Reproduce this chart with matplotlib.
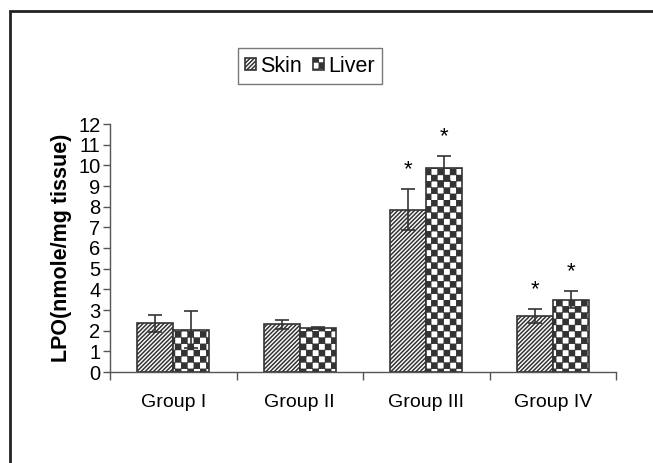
import warnings
import numpy as np
import matplotlib
matplotlib.use('Agg')
from matplotlib import pyplot as plt
from matplotlib import hatch as mhatch
from matplotlib.path import Path
from matplotlib.patches import Rectangle

warnings.filterwarnings('ignore')
plt.rcParams['font.family'] = ['Liberation Sans', 'DejaVu Sans']
plt.rcParams['hatch.linewidth'] = 1.1

groups    = ['Group I', 'Group II', 'Group III', 'Group IV']
skin      = [2.35, 2.30, 7.85, 2.70]
skin_err  = [0.40, 0.20, 1.00, 0.35]
liver     = [2.05, 2.15, 9.85, 3.50]
liver_err = [0.90, 0.05, 0.60, 0.40]
skin_sig  = [False, False, True, True]
liver_sig = [False, False, True, True]


# checkerboard hatch, triggered by the letter 'c'
class CheckerHatch(mhatch.HatchPatternBase):
    filled = True

    def __init__(self, hatch, density):
        self.n = 16 if 'c' in hatch else 0
        self.num_vertices = (self.n * self.n // 2) * 5

    def set_vertices_and_codes(self, vertices, codes):
        s = 1.0 / self.n
        shrink = 0.09 * s
        k = 0
        for i in range(self.n):
            for j in range(self.n):
                if (i + j) % 2:
                    continue
                x0, y0 = i * s + shrink, j * s + shrink
                x1, y1 = (i + 1) * s - shrink, (j + 1) * s - shrink
                vertices[k:k + 5] = [(x0, y0), (x1, y0), (x1, y1), (x0, y1), (x0, y0)]
                codes[k:k + 5] = [Path.MOVETO, Path.LINETO, Path.LINETO,
                                  Path.LINETO, Path.CLOSEPOLY]
                k += 5


mhatch._hatch_types.append(CheckerHatch)

fig = plt.figure(figsize=(6.53, 4.63), dpi=100, facecolor='w')
ax = fig.add_axes([110/653, 1-372/463, 506/653, 248/463])

x = np.arange(len(groups))
w = 0.285
edge = '#333333'
b1 = ax.bar(x - w/2, skin, w, color='white', edgecolor=edge, linewidth=1.2,
            hatch='////////', label='Skin')
b2 = ax.bar(x + w/2, liver, w, color='white', edgecolor=edge, linewidth=1.2,
            hatch='c', label='Liver')
ax.errorbar(x - w/2, skin, yerr=skin_err, fmt='none', ecolor=edge,
            elinewidth=1.2, capsize=5, capthick=1.2)
ax.errorbar(x + w/2, liver, yerr=liver_err, fmt='none', ecolor=edge,
            elinewidth=1.2, capsize=5, capthick=1.2)

for i in range(len(groups)):
    if skin_sig[i]:
        ax.text(x[i] - w/2, skin[i] + skin_err[i] + 0.95, '*', ha='center',
                va='center', fontsize=16)
    if liver_sig[i]:
        ax.text(x[i] + w/2, liver[i] + liver_err[i] + 0.95, '*', ha='center',
                va='center', fontsize=16)

ax.set_xlim(-0.5, len(groups) - 0.5)
ax.set_ylim(0, 12)
ax.set_yticks(range(0, 13))
ax.tick_params(axis='y', labelsize=14.5, length=5, width=1, color='#555555', pad=2)
ax.set_xticks(x)
ax.set_xticklabels(groups)
ax.set_xticks(np.arange(-0.5, len(groups)), minor=True)
ax.tick_params(axis='x', which='major', length=0, labelsize=14, pad=16)
ax.tick_params(axis='x', which='minor', length=6, width=1, color='#555555')
for s in ['top', 'right']:
    ax.spines[s].set_visible(False)
for s in ['left', 'bottom']:
    ax.spines[s].set_color('#555555')
    ax.spines[s].set_linewidth(1)
ax.set_ylabel('LPO(nmole/mg tissue)', fontsize=15.5, fontweight='bold', labelpad=4)

leg = fig.legend(handles=[b1, b2], loc='center', ncol=2,
                 bbox_to_anchor=(310/653, 1-66/463), fontsize=15.5,
                 handlelength=0.5, handleheight=0.5, handletextpad=0.2,
                 columnspacing=0.5, fancybox=False, borderpad=0.35)
leg.get_frame().set_edgecolor('#555555')
leg.get_frame().set_linewidth(1)

# outer frame (left and top edges visible)
fig.patches.append(Rectangle((10/653, -0.5), 2, 1.5 - 11/463, fill=False,
                             edgecolor='#222222', linewidth=2,
                             transform=fig.transFigure, figure=fig))

fig.savefig('out.png', dpi=100)
